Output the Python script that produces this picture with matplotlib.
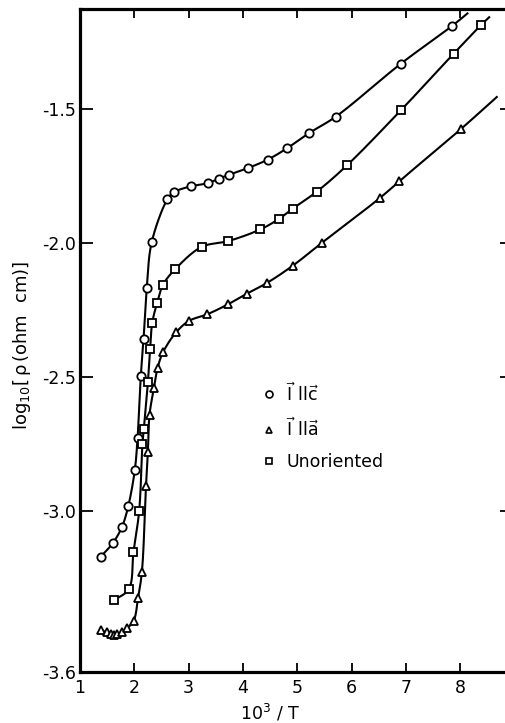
import numpy as np
import matplotlib
matplotlib.use("Agg")
import matplotlib.pyplot as plt

# ---- data (10^3/T , log10 rho) ----
c_x = [1.38, 1.60, 1.77, 1.89, 2.01, 2.06, 2.12, 2.17, 2.23, 2.32, 2.61, 2.73,
       3.04, 3.36, 3.56, 3.74, 4.09, 4.46, 4.82, 5.22, 5.71, 6.91, 7.86]
c_y = [-3.17, -3.12, -3.06, -2.98, -2.845, -2.727, -2.494, -2.358, -2.167, -1.996,
       -1.835, -1.809, -1.787, -1.775, -1.758, -1.744, -1.719, -1.687, -1.644,
       -1.588, -1.527, -1.329, -1.187]
c_end = (8.15, -1.139)

a_x = [1.39, 1.49, 1.57, 1.63, 1.69, 1.78, 1.87, 1.99, 2.07, 2.14, 2.215, 2.25,
       2.28, 2.36, 2.43, 2.53, 2.77, 3.01, 3.34, 3.72, 4.07, 4.44, 4.92, 5.46,
       6.52, 6.88, 8.01]
a_y = [-3.443, -3.452, -3.460, -3.462, -3.458, -3.452, -3.437, -3.408, -3.323,
       -3.226, -2.906, -2.777, -2.640, -2.541, -2.464, -2.406, -2.332, -2.289,
       -2.265, -2.228, -2.188, -2.148, -2.083, -1.997, -1.831, -1.768, -1.574]
a_end = (8.69, -1.451)

u_x = [1.63, 1.90, 1.985, 2.09, 2.15, 2.175, 2.25, 2.29, 2.33, 2.42, 2.53, 2.75,
       3.24, 3.72, 4.32, 4.66, 4.92, 5.36, 5.92, 6.91, 7.88, 8.39]
u_y = [-3.332, -3.290, -3.152, -2.998, -2.749, -2.693, -2.519, -2.396, -2.297,
       -2.222, -2.154, -2.097, -2.013, -1.992, -1.948, -1.909, -1.870, -1.807,
       -1.708, -1.503, -1.292, -1.184]
u_end = (8.55, -1.153)

labels = [r'$\vec{\mathrm{I}}\ \mathrm{ll}\vec{\mathrm{c}}$',
          r'$\vec{\mathrm{I}}\ \mathrm{ll}\vec{\mathrm{a}}$',
          'Unoriented']
xticks = [1, 2, 3, 4, 5, 6, 7, 8]
yticks = [-1.5, -2.0, -2.5, -3.0, -3.6]
yticklabels = ['-1.5', '-2.0', '-2.5', '-3.0', '-3.6']

plt.rcParams['font.family'] = ['DejaVu Sans']
plt.rcParams['mathtext.fontset'] = 'dejavusans'

W, H = 505, 723
fig = plt.figure(figsize=(W / 100, H / 100), dpi=100)
AXW = 433
ax = fig.add_axes([80 / W, (H - 672) / H, AXW / W, 663 / H])
ax.set_xlim(1, 1 + AXW / 54.3)
ax.set_ylim(-3.585, -1.125)

for s in ax.spines.values():
    s.set_linewidth(2.3)
ax.spines['right'].set_visible(False)


def catmull(ax, xs, ys, n=24, alpha=0.5):
    P = ax.transData.transform(np.column_stack([xs, ys]))
    ext = np.vstack([2 * P[0] - P[1], P, 2 * P[-1] - P[-2]])
    out = [P[0]]
    for i in range(1, len(ext) - 2):
        p0, p1, p2, p3 = ext[i - 1:i + 3]
        t0 = 0.0
        t1 = t0 + np.linalg.norm(p1 - p0) ** alpha
        t2 = t1 + np.linalg.norm(p2 - p1) ** alpha
        t3 = t2 + np.linalg.norm(p3 - p2) ** alpha
        t = np.linspace(t1, t2, n)[1:, None]
        A1 = (t1 - t) / (t1 - t0) * p0 + (t - t0) / (t1 - t0) * p1
        A2 = (t2 - t) / (t2 - t1) * p1 + (t - t1) / (t2 - t1) * p2
        A3 = (t3 - t) / (t3 - t2) * p2 + (t - t2) / (t3 - t2) * p3
        B1 = (t2 - t) / (t2 - t0) * A1 + (t - t0) / (t2 - t0) * A2
        B2 = (t3 - t) / (t3 - t1) * A2 + (t - t1) / (t3 - t1) * A3
        C = (t2 - t) / (t2 - t1) * B1 + (t - t1) / (t2 - t1) * B2
        out.extend(C)
    out = np.array(out)
    D = ax.transData.inverted().transform(out)
    return D[:, 0], D[:, 1]


series = [(c_x, c_y, c_end, 'o', 6.0),
          (a_x, a_y, a_end, '^', 6.3),
          (u_x, u_y, u_end, 's', 5.6)]
for xs, ys, end, mk, ms in series:
    lx, ly = catmull(ax, list(xs) + [end[0]], list(ys) + [end[1]])
    ax.plot(lx, ly, color='black', lw=1.5, zorder=2, solid_capstyle='butt')
    ax.plot(xs, ys, linestyle='none', marker=mk, ms=ms, mfc='white',
            mec='black', mew=1.3, zorder=3)

leg_handles = [plt.Line2D([], [], ls='none', marker=m, ms=5, mfc='white',
                          mec='black', mew=1.2) for m in ['o', '^', 's']]
ax.legend(leg_handles, labels, loc='upper left',
          bbox_to_anchor=((255 - 80) / AXW, (672 - 375) / 663),
          frameon=False, fontsize=12.5, handlelength=0.8, handletextpad=0.6,
          labelspacing=0.75, borderaxespad=0)

ax.set_xticks(xticks)
ax.set_xticklabels([str(v) for v in xticks])
ax.set_yticks(yticks)
ax.set_yticklabels(yticklabels)
ax.tick_params(axis='both', which='both', direction='in', width=1.3,
               labelsize=12.5, top=True, right=True)
ax.tick_params(axis='x', length=6.5, pad=5)
ax.tick_params(axis='y', length=9.5, pad=3)

fig.text(270 / W, 1 - 713 / H, r'$\mathrm{10^3\ /\ T}$', ha='center',
         va='center', fontsize=12.5)
fig.text(22 / W, 1 - 345 / H, r'$\mathrm{log_{10}[\,\rho\,(ohm\ \ cm)]}$',
         ha='center', va='center', rotation=90, fontsize=13)

fig.savefig('out.png', dpi=100)
